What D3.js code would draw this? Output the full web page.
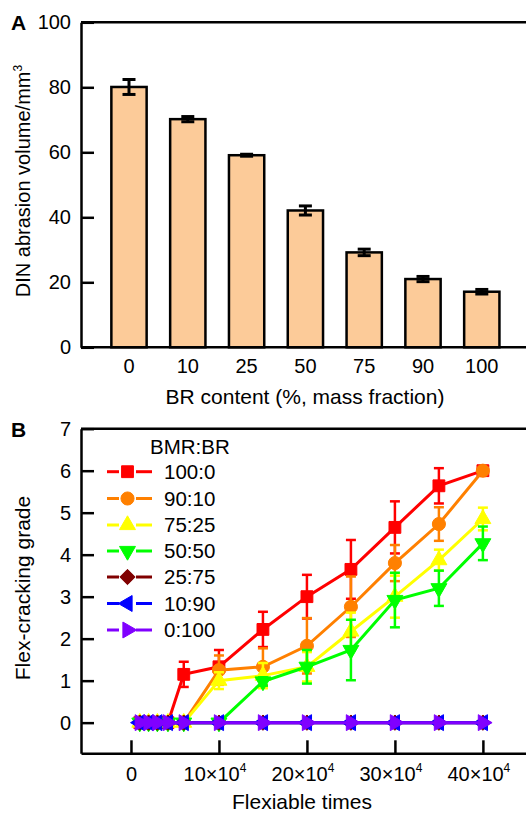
<!DOCTYPE html>
<html><head><meta charset="utf-8">
<script src="https://cdn.jsdelivr.net/npm/d3@7"></script>
<style>body{margin:0;background:#fff}svg{display:block;font-family:"Liberation Sans",Arial,sans-serif}</style>
</head><body>
<svg id="c" width="526" height="813"></svg>
<script>
// ---------- Panel A data ----------
const brContent = ["0","10","25","50","75","90","100"];
const abrasion = [80.1, 70.2, 59.1, 42.1, 29.2, 21.0, 17.1];
const abrasionErr = [2.3, 0.8, 0.3, 1.4, 1.0, 0.8, 0.7];
const yTicksA = [0, 20, 40, 60, 80, 100];

// ---------- Panel B data ----------
const flexTimes = [1, 2, 3, 4.2, 6, 10, 15, 20, 25, 30, 35, 40];
const seriesNames = ["100:0", "90:10", "75:25", "50:50", "25:75", "10:90", "0:100"];
const grade100_0 = [0, 0, 0, 0, 1.15, 1.33, 2.22, 3.0, 3.65, 4.65, 5.64, 6.0];
const err100_0   = [0, 0, 0, 0, 0.30, 0.40, 0.42, 0.52, 0.70, 0.62, 0.42, 0];
const grade90_10 = [0, 0, 0, 0, 0, 1.25, 1.33, 1.83, 2.76, 3.80, 4.73, 6.0];
const err90_10   = [0, 0, 0, 0, 0, 0.35, 0.44, 0.66, 0.72, 0.43, 0.40, 0];
const grade75_25 = [0, 0, 0, 0, 0, 1.0, 1.12, 1.33, 2.17, 3.0, 3.87, 4.85];
const err75_25   = [0, 0, 0, 0, 0, 0.2, 0.30, 0.35, 0.45, 0.5, 0.25, 0.27];
const grade50_50 = [0, 0, 0, 0, 0, 0, 0.98, 1.33, 1.73, 2.92, 3.20, 4.27];
const err50_50   = [0, 0, 0, 0, 0, 0, 0.10, 0.40, 0.72, 0.65, 0.42, 0.40];
const grade25_75 = [0, 0, 0, 0, 0, 0, 0, 0, 0, 0, 0, 0];
const grade10_90 = [0, 0, 0, 0, 0, 0, 0, 0, 0, 0, 0, 0];
const grade0_100 = [0, 0, 0, 0, 0, 0, 0, 0, 0, 0, 0, 0];
const zeroErr    = [0, 0, 0, 0, 0, 0, 0, 0, 0, 0, 0, 0];
const xTicksB = [0, 10, 20, 30, 40];
const yTicksB = [0, 1, 2, 3, 4, 5, 6, 7];

const seriesColors = ["#ff0000", "#ff8000", "#ffff00", "#00ff00", "#800000", "#0000ff", "#8000ff"];

const svg = d3.select("#c");
const L = 81, R = 526;

// ================= Panel A =================
const yA = d3.scaleLinear().domain([0, 100]).range([347.3, 22.3]);
const xA = d3.scaleBand().domain(brContent).range([99.6, 511.2]).paddingInner(0.4).paddingOuter(0.2);

const gA = svg.append("g");
gA.selectAll("rect.bar").data(abrasion).join("rect")
  .attr("x", (d, i) => xA(brContent[i]))
  .attr("y", d => yA(d))
  .attr("width", xA.bandwidth())
  .attr("height", d => yA(0) - yA(d))
  .attr("fill", "#fccb99").attr("stroke", "#000").attr("stroke-width", 2.5);
abrasion.forEach((v, i) => {
  const cx = xA(brContent[i]) + xA.bandwidth() / 2, e = abrasionErr[i];
  const g = gA.append("g").attr("stroke", "#000").attr("stroke-width", 3);
  g.append("line").attr("x1", cx).attr("x2", cx).attr("y1", yA(v - e)).attr("y2", yA(v + e));
  g.append("line").attr("x1", cx - 6.5).attr("x2", cx + 6.5).attr("y1", yA(v + e)).attr("y2", yA(v + e));
  g.append("line").attr("x1", cx - 6.5).attr("x2", cx + 6.5).attr("y1", yA(v - e)).attr("y2", yA(v - e));
});
const axA = gA.append("g").attr("transform", `translate(${L},0)`)
  .call(d3.axisLeft(yA).tickValues(yTicksA).tickSize(-13).tickSizeOuter(0).tickPadding(10));
const axAx = gA.append("g").attr("transform", `translate(0,${yA(0)})`)
  .call(d3.axisBottom(xA).tickSize(0).tickPadding(11.5));
axAx.select(".domain").remove();
gA.append("line").attr("x1", L).attr("x2", R).attr("y1", yA(100)).attr("y2", yA(100)).attr("stroke", "#000").attr("stroke-width", 2.5);
gA.append("line").attr("x1", L).attr("x2", R).attr("y1", yA(0)).attr("y2", yA(0)).attr("stroke", "#000").attr("stroke-width", 2.5);

[axA, axAx].forEach(a => {
  a.selectAll("text").attr("font-size", 20).attr("fill", "#000").attr("font-family", "Liberation Sans, Arial, sans-serif");
  a.selectAll("line").attr("stroke", "#000").attr("stroke-width", 2.5);
  a.selectAll(".domain").attr("stroke", "#000").attr("stroke-width", 2.5);
});

svg.append("text").attr("x", 11).attr("y", 30).attr("font-size", 21).attr("font-weight", "bold").text("A");
const tA = svg.append("text").attr("transform", "translate(29.5,181) rotate(-90)")
  .attr("text-anchor", "middle").attr("font-size", 20);
tA.append("tspan").text("DIN abrasion volume/mm");
tA.append("tspan").attr("font-size", 12).attr("dy", -8).text("3");
svg.append("text").attr("x", 305).attr("y", 404).attr("text-anchor", "middle").attr("font-size", 21)
  .text("BR content (%, mass fraction)");

// ================= Panel B =================
const xB = d3.scaleLinear().domain([-5.68, 44.9]).range([L, R]);
const yB = d3.scaleLinear().domain([-0.73, 7]).range([753.3, 428.7]);
const gB = svg.append("g");

const axBy = gB.append("g").attr("transform", `translate(${L},0)`)
  .call(d3.axisLeft(yB).tickValues(yTicksB).tickSize(-13).tickSizeOuter(0).tickPadding(10));
const axBx = gB.append("g").attr("transform", `translate(0,${yB.range()[0]})`)
  .call(d3.axisBottom(xB).tickValues(xTicksB).tickSize(-13).tickSizeOuter(0).tickPadding(13.5).tickFormat(""));
gB.append("line").attr("x1", L).attr("x2", R).attr("y1", yB(7)).attr("y2", yB(7)).attr("stroke", "#000").attr("stroke-width", 2.5);
[axBy, axBx].forEach(a => {
  a.selectAll("text").attr("font-size", 20).attr("fill", "#000").attr("font-family", "Liberation Sans, Arial, sans-serif");
  a.selectAll("line").attr("stroke", "#000").attr("stroke-width", 2.5);
  a.selectAll(".domain").attr("stroke", "#000").attr("stroke-width", 2.5);
});
axBx.selectAll(".tick").each(function(d) {
  const t = d3.select(this).select("text").text(null).attr("y", 13.5).attr("dy", "0.71em");
  if (d === 0) { t.text("0"); }
  else {
    t.attr("dx", -4.5);
    t.append("tspan").text(d + "×10");
    t.append("tspan").attr("font-size", 12).attr("dy", "-0.75em").text("4");
  }
});

const seriesVals = [grade100_0, grade90_10, grade75_25, grade50_50, grade25_75, grade10_90, grade0_100];
const seriesErrs = [err100_0, err90_10, err75_25, err50_50, zeroErr, zeroErr, zeroErr];
const symTypes = [d3.symbolSquare, d3.symbolCircle, d3.symbolTriangle, d3.symbolTriangle, d3.symbolDiamond2, d3.symbolTriangle, d3.symbolTriangle];
const symSizes = [140, 135, 110, 110, 150, 110, 110];
const symRot = [0, 0, 0, 180, 0, -90, 90];

const lineGen = d3.line().x(d => xB(d[0])).y(d => yB(d[1]));

seriesVals.forEach((vals, s) => {
  const col = seriesColors[s];
  const g = gB.append("g");
  const pts = flexTimes.map((x, i) => [x, vals[i], seriesErrs[s][i]]);
  g.append("path").attr("d", lineGen(pts)).attr("fill", "none").attr("stroke", col).attr("stroke-width", 3);
  pts.filter(p => p[2] > 0).forEach(p => {
    const cx = xB(p[0]);
    const eg = g.append("g").attr("stroke", col).attr("stroke-width", 2.5);
    eg.append("line").attr("x1", cx).attr("x2", cx).attr("y1", yB(p[1] - p[2])).attr("y2", yB(p[1] + p[2]));
    eg.append("line").attr("x1", cx - 5).attr("x2", cx + 5).attr("y1", yB(p[1] + p[2])).attr("y2", yB(p[1] + p[2]));
    eg.append("line").attr("x1", cx - 5).attr("x2", cx + 5).attr("y1", yB(p[1] - p[2])).attr("y2", yB(p[1] - p[2]));
  });
  const sym = d3.symbol().type(symTypes[s]).size(symSizes[s]);
  g.selectAll("path.m").data(pts).join("path").attr("class", "m")
    .attr("d", sym)
    .attr("transform", d => `translate(${xB(d[0])},${yB(d[1])}) rotate(${symRot[s]})`)
    .attr("fill", col).attr("stroke", col).attr("stroke-width", 1);
});

const legY = [471.7, 498.5, 525, 551, 577, 603.5, 630];
svg.append("text").attr("x", 150).attr("y", 446.7).attr("dy", "0.35em").attr("font-size", 20.5).text("BMR:BR");
seriesNames.forEach((n, s) => {
  const y = legY[s], col = seriesColors[s];
  const g = svg.append("g");
  g.append("line").attr("x1", 107).attr("x2", 119).attr("y1", y).attr("y2", y).attr("stroke", col).attr("stroke-width", 3);
  g.append("line").attr("x1", 136).attr("x2", 152).attr("y1", y).attr("y2", y).attr("stroke", col).attr("stroke-width", 3);
  g.append("path").attr("d", d3.symbol().type(symTypes[s]).size(symSizes[s])())
    .attr("transform", `translate(127.5,${y}) rotate(${symRot[s]})`).attr("fill", col).attr("stroke", col);
  g.append("text").attr("x", 164).attr("y", y).attr("dy", "0.35em").attr("font-size", 20.5).text(n);
});

svg.append("text").attr("x", 11).attr("y", 437).attr("font-size", 21).attr("font-weight", "bold").text("B");
svg.append("text").attr("transform", "translate(29.5,588) rotate(-90)").attr("text-anchor", "middle")
  .attr("font-size", 21).text("Flex-cracking grade");
svg.append("text").attr("x", 302).attr("y", 809).attr("text-anchor", "middle").attr("font-size", 21).text("Flexiable times");
</script>
</body></html>
